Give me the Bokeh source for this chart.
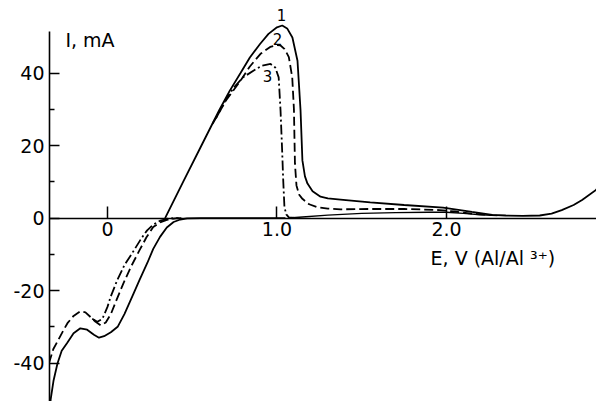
from bokeh.plotting import figure
from bokeh.models import LinearAxis, FixedTicker, Range1d, Label
from bokeh.embed import file_html
from bokeh.resources import INLINE

# ---- data (E in V vs Al/Al3+, I in mA) ----
c1_lower_E = [-0.345, -0.335, -0.318, -0.295, -0.27, -0.236, -0.20, -0.16, -0.12, -0.08,
              -0.05, -0.02, 0.02, 0.06, 0.10, 0.155, 0.19, 0.235, 0.27, 0.31, 0.35,
              0.39, 0.43, 0.47, 0.55, 1.05]
c1_lower_I = [-56, -50, -44.8, -40.1, -36.6, -34.3, -31.8, -30.4, -30.8, -32.2,
              -33, -32.6, -31.5, -30, -26.5, -20.7, -17, -12.4, -8.5, -5.2, -2.6,
              -1.1, -0.4, -0.1, 0, 0]

c1_upper_E = [0.34, 0.45, 0.55, 0.66, 0.72, 0.785, 0.84, 0.90, 0.95, 1.0, 1.031, 1.06,
              1.091, 1.121, 1.133, 1.139, 1.15, 1.165, 1.18, 1.21, 1.257, 1.30, 1.375,
              1.55, 1.75, 1.98, 2.05, 2.15, 2.27, 2.35, 2.45, 2.55, 2.62, 2.68, 2.75,
              2.80, 2.88, 2.96]
c1_upper_I = [0, 10.3, 19.6, 29.8, 35, 40, 44.3, 48, 50.8, 52.6, 53.1, 52.3,
              49.8, 43.4, 34.3, 29.7, 15.9, 11.5, 9.5, 7.4, 5.9, 5.4, 5.1,
              4.3, 3.6, 2.9, 2.4, 1.7, 0.9, 0.7, 0.6, 0.7, 1.2, 2.2, 3.6,
              5.0, 7.7, 11.3]

c1_return_E = [1.07, 1.15, 1.3, 1.5, 1.7, 1.9, 2.0, 2.1, 2.2, 2.3]
c1_return_I = [0, 0.3, 0.8, 1.3, 1.5, 1.6, 1.6, 1.3, 0.9, 0.7]

c2_lower_E = [-0.345, -0.32, -0.29, -0.26, -0.236, -0.20, -0.16, -0.13, -0.10, -0.07,
              -0.04, -0.01, 0.02, 0.05, 0.094, 0.14, 0.19, 0.23, 0.27, 0.31, 0.35,
              0.40, 0.45]
c2_lower_I = [-40, -36.2, -33.6, -31, -29, -27, -25.7, -26, -27.3, -28.6,
              -29.6, -28.8, -26.5, -23, -18, -13.3, -8.8, -5.3, -2.5, -1.2, -0.5,
              -0.1, 0]

c2_upper_E = [0.62, 0.70, 0.785, 0.84, 0.903, 0.96, 1.0, 1.021, 1.045, 1.07, 1.09,
              1.10, 1.106, 1.115, 1.13, 1.15, 1.19, 1.237, 1.30, 1.375, 1.55, 1.75,
              1.96, 2.05, 2.15, 2.27]
c2_upper_I = [26, 32.5, 37.9, 41.8, 45.3, 47.2, 47.7, 47.6, 46.6, 44.4, 38.8,
              30, 15, 9, 6.5, 5.3, 3.8, 3.0, 2.6, 2.4, 2.5, 2.5,
              2.2, 1.8, 1.2, 0.8]

c3_lower_E = [-0.09, -0.06, -0.03, 0.0, 0.018, 0.057, 0.10, 0.155, 0.20, 0.234, 0.27,
              0.313, 0.36, 0.42]
c3_lower_I = [-27.8, -28.6, -27.8, -24.5, -21.8, -17.2, -13, -9, -5.6, -3.4, -1.8,
              -0.7, -0.1, 0]

c3_upper_E = [0.64, 0.70, 0.745, 0.80, 0.863, 0.91, 0.962, 0.99, 1.01, 1.021, 1.031,
              1.036, 1.044, 1.055, 1.07, 1.12]
c3_upper_I = [27.5, 32.8, 36, 38.8, 40.7, 42, 42.5, 41.5, 38.8, 29.7, 18,
              11.3, 3.0, 1.0, 0.2, 0]

y_ticks = [-40, -20, 0, 20, 40]
y_minor = [-30, -10, 10, 30]
x_ticks = [0, 1, 2]
x_tick_labels = ["0", "1.0", "2.0"]
curve_labels = ["1", "2", "3"]
curve_label_E = [1.027, 1.003, 0.944]
curve_label_I = [55.9, 49.5, 39.3]

FONT = "DejaVu Sans"

p = figure(width=596, height=401, output_backend="svg", toolbar_location=None,
           x_range=Range1d(-0.342, 2.885), y_range=Range1d(-50.6, 60.0),
           x_axis_location=None, y_axis_location=None,
           min_border_left=49, min_border_right=0, min_border_top=0, min_border_bottom=0)
p.outline_line_color = None
p.xgrid.visible = False
p.ygrid.visible = False
p.background_fill_color = "white"

yaxis = LinearAxis(ticker=FixedTicker(ticks=y_ticks, minor_ticks=y_minor),
                   bounds=(-60, 51.5),
                   major_label_overrides={t: str(t) for t in y_ticks},
                   major_tick_in=10, major_tick_out=0,
                   minor_tick_in=5, minor_tick_out=0,
                   major_label_standoff=5,
                   major_label_text_font=FONT, major_label_text_font_size="19px",
                   major_label_text_color="black",
                   axis_line_width=1.6, major_tick_line_width=1.5, minor_tick_line_width=1.5)
p.add_layout(yaxis, "left")

xaxis = LinearAxis(ticker=FixedTicker(ticks=x_ticks, minor_ticks=[]),
                   fixed_location=0,
                   major_label_overrides=dict(zip(x_ticks, x_tick_labels)),
                   major_tick_in=12, major_tick_out=0,
                   minor_tick_in=0, minor_tick_out=0,
                   major_label_standoff=4,
                   major_label_text_font=FONT, major_label_text_font_size="19px",
                   major_label_text_color="black",
                   axis_line_width=1.6, major_tick_line_width=1.5)
p.add_layout(xaxis, "below")

lw = 1.8
p.line(c1_lower_E, c1_lower_I, line_color="black", line_width=lw)
p.line(c1_upper_E, c1_upper_I, line_color="black", line_width=lw)
p.line(c1_return_E, c1_return_I, line_color="black", line_width=1.4)
p.line(c2_lower_E, c2_lower_I, line_color="black", line_width=lw, line_dash="9 4")
p.line(c2_upper_E, c2_upper_I, line_color="black", line_width=lw, line_dash="9 4")
p.line(c3_lower_E, c3_lower_I, line_color="black", line_width=lw, line_dash="10 3 2 3")
p.line(c3_upper_E, c3_upper_I, line_color="black", line_width=lw, line_dash="10 3 2 3")

for t, e, i in zip(curve_labels, curve_label_E, curve_label_I):
    p.add_layout(Label(x=e, y=i, text=t, text_font=FONT, text_font_size="15px",
                       text_align="center", text_baseline="middle", text_color="black"))

p.add_layout(Label(x=-0.248, y=49.2, text="I,  mA", text_font=FONT, text_font_size="19px",
                   text_align="left", text_baseline="middle", text_color="black"))
p.add_layout(Label(x=1.906, y=-10.9, text="E, V (Al/Al \u00b3\u207a)", text_font=FONT,
                   text_font_size="19px", text_align="left", text_baseline="middle",
                   text_color="black"))

open("out.html", "w").write(file_html(p, INLINE))
